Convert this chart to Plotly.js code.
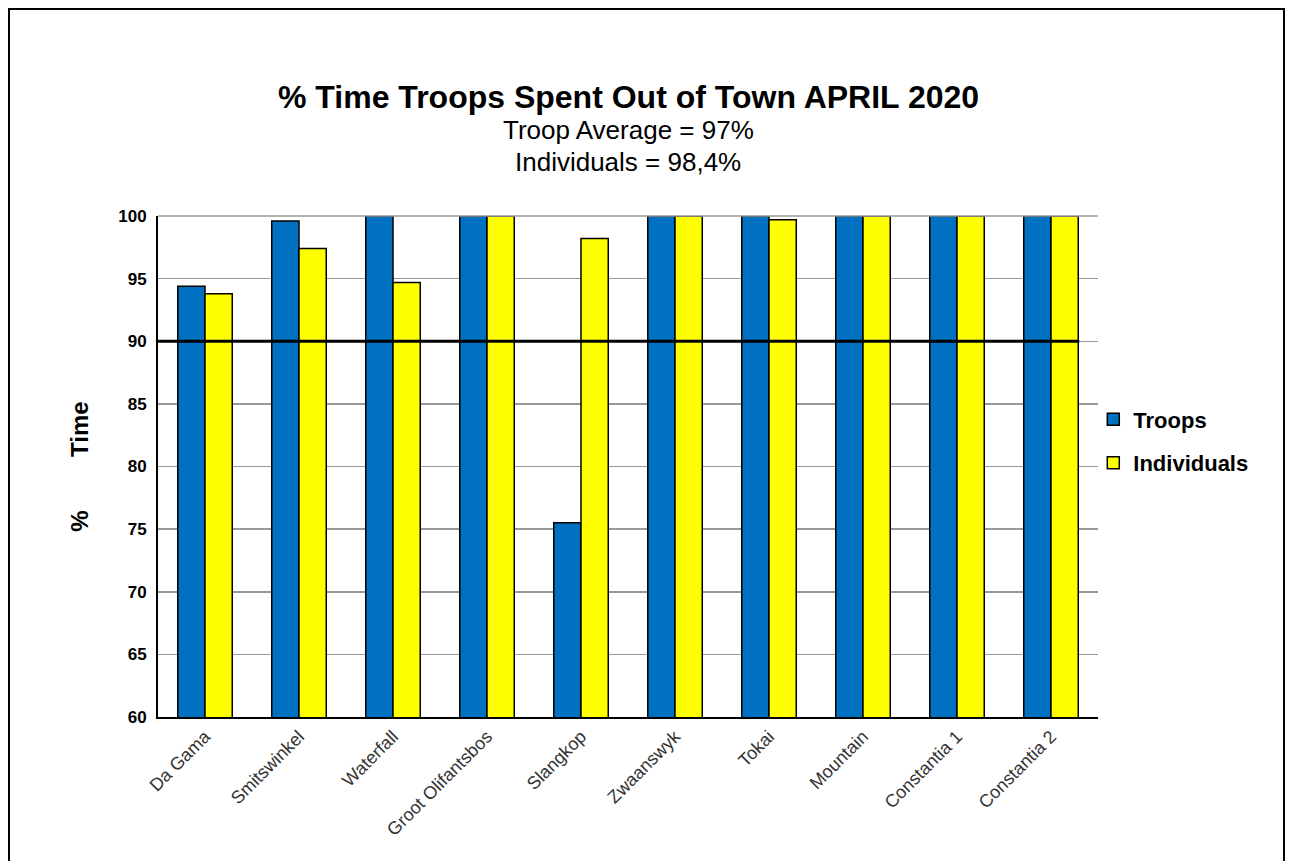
<!DOCTYPE html>
<html>
<head>
<meta charset="utf-8">
<script src="https://cdn.plot.ly/plotly-3.0.1.min.js"></script>
<style>
html,body{margin:0;padding:0;background:#fff;overflow:hidden;}
#frame{position:absolute;left:8px;top:8px;width:1277px;height:880px;border:2px solid #000;box-sizing:border-box;pointer-events:none;z-index:5;}
#chart{position:absolute;left:0;top:0;width:1291px;height:861px;}
</style>
</head>
<body>
<div id="chart"></div>
<div id="frame"></div>
<script>
var categories = ["Da Gama","Smitswinkel","Waterfall","Groot Olifantsbos","Slangkop","Zwaanswyk","Tokai","Mountain","Constantia 1","Constantia 2"];
var troops = [94.4, 99.6, 100, 100, 75.5, 100, 100, 100, 100, 100];
var individuals = [93.8, 97.4, 94.7, 100, 98.2, 100, 99.7, 100, 100, 100];
var yTicks = [60,65,70,75,80,85,90,95,100];
var targetLine = 90;

var F = "Arial, 'Liberation Sans', sans-serif";
var NB = "\u00a0";

var data = [
  {type:"bar", name:"Troops", x:categories, y:troops, legendgroup:"a",
   marker:{color:"#0070C0", line:{color:"#000", width:1.5}}},
  {type:"bar", name:"Individuals", x:categories, y:individuals, legendgroup:"b",
   marker:{color:"#FFFF00", line:{color:"#000", width:1.5}}}
];

var layout = {
  width:1291, height:861,
  margin:{l:158, r:193, t:216, b:144, pad:0},
  paper_bgcolor:"#fff", plot_bgcolor:"#fff",
  font:{family:F, color:"#000"},
  barmode:"group", bargap:0.42, bargroupgap:0,
  showlegend:true,
  legend:{x:0.995, xanchor:"left", y:0.55, yanchor:"middle",
          font:{family:F, size:22, color:"#000", weight:"bold"},
          traceorder:"grouped", tracegroupgap:12, bgcolor:"rgba(0,0,0,0)",
          itemwidth:30},
  xaxis:{type:"category", tickangle:-45, showline:true, linecolor:"#000", linewidth:2,
         ticks:"", tickfont:{family:F, size:18, color:"#333"}, showgrid:false},
  yaxis:{range:[60,100], tickvals:yTicks, ticktext:yTicks.map(String),
         showgrid:true, gridcolor:"#999", gridwidth:1.5,
         showline:true, linecolor:"#000", linewidth:2, ticks:"", zeroline:false,
         ticklabelstandoff:6,
         tickfont:{family:F, size:17, color:"#000", weight:"bold"},
         title:{text:"%" + NB+NB+NB+NB+NB+NB+NB+NB + "Time", font:{family:F, size:24, color:"#000", weight:"bold"}, standoff:23}},
  shapes:[
    {type:"line", xref:"paper", yref:"y", x0:0, x1:0.98, y0:targetLine, y1:targetLine,
     line:{color:"#000", width:3}},
    {type:"line", xref:"paper", yref:"paper", x0:0, x1:1, y0:1, y1:1,
     line:{color:"#999", width:1.5}}
  ],
  annotations:[
    {text:"<b>% Time Troops Spent Out of Town APRIL 2020</b>", xref:"paper", yref:"paper",
     x:0.5, y:1, yanchor:"middle", yshift:119, showarrow:false, font:{family:F, size:32, color:"#000"}},
    {text:"Troop Average = 97%", xref:"paper", yref:"paper",
     x:0.5, y:1, yanchor:"middle", yshift:86, showarrow:false, font:{family:F, size:26, color:"#000"}},
    {text:"Individuals = 98,4%", xref:"paper", yref:"paper",
     x:0.5, y:1, yanchor:"middle", yshift:54, showarrow:false, font:{family:F, size:26, color:"#000"}}
  ]
};

Plotly.newPlot("chart", data, layout, {displayModeBar:false, staticPlot:true});
</script>
</body>
</html>
